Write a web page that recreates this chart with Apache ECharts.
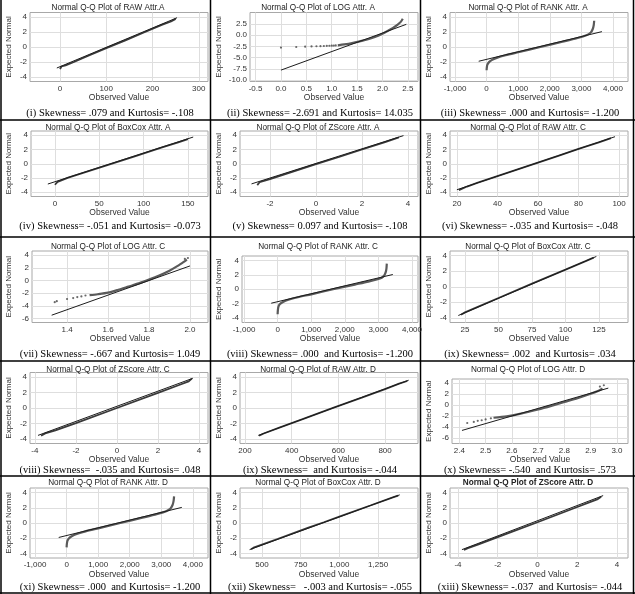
<!DOCTYPE html>
<html>
<head>
<meta charset="utf-8">
<title>Normal Q-Q plots</title>
<script src="https://cdn.jsdelivr.net/npm/echarts@6/dist/echarts.min.js"></script>
<style>
  html, body { margin: 0; padding: 0; background: #fff; }
  #chart { width: 635px; height: 594px; }
</style>
</head>
<body>
<div id="chart"></div>
<script>
// panel titles / captions
const titles = [
    'Normal Q-Q Plot of RAW Attr.A', 'Normal Q-Q Plot of LOG Attr. A', 'Normal Q-Q Plot of RANK Attr. A',
    'Normal Q-Q Plot of BoxCox Attr. A', 'Normal Q-Q Plot of ZScore Attr. A', 'Normal Q-Q Plot of RAW Attr. C',
    'Normal Q-Q Plot of LOG Attr. C', 'Normal Q-Q Plot of RANK Attr. C', 'Normal Q-Q Plot of BoxCox Attr. C',
    'Normal Q-Q Plot of ZScore Attr. C', 'Normal Q-Q Plot of RAW Attr. D', 'Normal Q-Q Plot of LOG Attr. D',
    'Normal Q-Q Plot of RANK Attr. D', 'Normal Q-Q Plot of BoxCox Attr. D', 'Normal Q-Q Plot of ZScore Attr. D'
];
const captions = [
    '(i) Skewness= .079 and Kurtosis= -.108',
    '(ii) Skewness= -2.691 and Kurtosis= 14.035',
    '(iii) Skewness= .000 and Kurtosis= -1.200',
    '(iv) Skewness= -.051 and Kurtosis= -0.073',
    '(v) Skewness= 0.097 and Kurtosis= -.108',
    '(vi) Skewness= -.035 and Kurtosis= -.048',
    '(vii) Skewness= -.667 and Kurtosis= 1.049',
    '(viii) Skewness= .000  and Kurtosis= -1.200',
    '(ix) Skewness= .002  and Kurtosis= .034',
    '(viii) Skewness=  -.035 and Kurtosis= .048',
    '(ix) Skewness=  and Kurtosis= -.044',
    '(x) Skewness= -.540  and Kurtosis= .573',
    '(xi) Skewness= .000  and Kurtosis= -1.200',
    '(xii) Skewness=   -.003 and Kurtosis= -.055',
    '(xiii) Skewness= -.037  and Kurtosis= -.044'
];

// tick labels
const y4 = [-4, -2, 0, 2, 4];
const yLogA = [-10, -7.5, -5, -2.5, 0, 2.5];
const yLog = [-6, -4, -2, 0, 2, 4];
const xRawA = [0, 100, 200, 300];
const xLogA = [-0.5, 0, 0.5, 1, 1.5, 2, 2.5];
const xRank = [-1000, 0, 1000, 2000, 3000, 4000];
const xBoxA = [0, 50, 100, 150];
const xZA = [-2, 0, 2, 4];
const xRawC = [20, 40, 60, 80, 100];
const xLogC = [1.4, 1.6, 1.8, 2.0];
const xBoxC = [25, 50, 75, 100, 125];
const xZ = [-4, -2, 0, 2, 4];
const xRawD = [200, 400, 600, 800];
const xLogD = [2.4, 2.5, 2.6, 2.7, 2.8, 2.9, 3.0];
const xBoxD = [500, 750, 1000, 1250];

// reference lines (expected normal) and observed quantiles
const rawA_ref = [[-7, -2.8], [253, 3.9]];
const rawA_qq = [[0, -2.95], [3, -2.6], [12, -2.45], [30, -2.0], [60, -1.2], [100, -0.15], [140, 0.85], [180, 1.9], [220, 2.95], [240, 3.4], [250, 3.75]];

const logA_ref = [[0, -7.8], [2.47, 2.45]];
const logA_tail = [[0, -2.75], [0.301, -2.62], [0.477, -2.55], [0.602, -2.5], [0.699, -2.46], [0.778, -2.43], [0.845, -2.4], [0.903, -2.37], [0.954, -2.34], [1.0, -2.32], [1.041, -2.3], [1.079, -2.28]];
const logA_qq = [[1.12, -2.25], [1.25, -2.05], [1.4, -1.75], [1.55, -1.35], [1.7, -0.95], [1.85, -0.4], [2.0, 0.35], [2.1, 0.95], [2.2, 1.6], [2.3, 2.4], [2.36, 3.0], [2.4, 3.7]];

const rankA_ref = [[-250, -1.9], [3650, 2.05]];
const rankA_qq = [[0, -3.1], [8, -2.7], [25, -2.35], [70, -2.05], [160, -1.75], [320, -1.45], [600, -1.1], [1000, -0.7], [1700, 0], [2400, 0.7], [2800, 1.1], [3050, 1.4], [3200, 1.65], [3300, 1.95], [3360, 2.4], [3390, 2.9], [3405, 3.5]];

const boxA_ref = [[-8, -2.85], [156, 3.75]];
const boxA_qq = [[0, -2.95], [3, -2.55], [15, -1.95], [30, -1.35], [60, -0.15], [90, 1.05], [120, 2.25], [140, 3.05], [150, 3.45]];

const zA_ref = [[-2.8, -2.83], [3.8, 3.95]];
const zA_qq = [[-2.55, -3.0], [-2.45, -2.6], [-2, -2.15], [-1, -1.1], [0, -0.05], [1, 0.95], [2, 2.0], [3, 3.05], [3.6, 3.7]];

const rawC_ref = [[20, -3.65], [98, 3.8]];
const rawC_qq = [[21, -3.7], [25, -3.2], [30, -2.7], [40, -1.75], [50, -0.8], [60, 0.15], [70, 1.1], [80, 2.1], [90, 3.0], [96, 3.6]];

const logC_ref = [[1.325, -5.45], [2.0, 2.3]];
const logC_tail = [[1.34, -3.4], [1.35, -3.25], [1.4, -2.9], [1.43, -2.75], [1.45, -2.6], [1.47, -2.5], [1.49, -2.35], [1.975, 3.4], [1.99, 3.55]];
const logC_qq = [[1.51, -2.3], [1.55, -2.15], [1.6, -1.9], [1.65, -1.45], [1.7, -0.95], [1.75, -0.45], [1.8, 0.15], [1.85, 0.8], [1.9, 1.55], [1.94, 2.3], [1.97, 2.95], [1.985, 3.3]];

const rankC_ref = [[-190, -1.93], [3430, 2.04]];
const rankC_qq = [[0, -3.45], [8, -2.9], [25, -2.4], [70, -2.05], [160, -1.75], [320, -1.45], [600, -1.1], [1000, -0.7], [1650, 0], [2300, 0.65], [2700, 1.05], [2950, 1.35], [3100, 1.6], [3180, 1.95], [3220, 2.4], [3240, 2.9], [3250, 3.55]];

const boxC_ref = [[20, -3.7], [123, 3.9]];
const boxC_qq = [[22, -3.6], [25, -3.3], [35, -2.55], [50, -1.45], [75, 0.4], [100, 2.2], [115, 3.3], [121, 3.75]];

const zC_ref = [[-3.85, -3.55], [3.7, 3.85]];
const zC_qq = [[-3.7, -3.6], [-3.5, -3.3], [-3, -2.9], [-2, -1.95], [0, 0.0], [2, 1.95], [3, 2.95], [3.5, 3.45], [3.65, 3.8]];

const rawD_ref = [[257, -3.55], [901, 3.6]];
const rawD_qq = [[260, -3.6], [280, -3.3], [350, -2.5], [450, -1.4], [580, 0.05], [700, 1.35], [800, 2.45], [860, 3.15], [895, 3.5]];

const logD_ref = [[2.41, -4.6], [2.967, 3.08]];
const logD_tail = [[2.43, -3.25], [2.455, -3.05], [2.47, -2.85], [2.485, -2.75], [2.5, -2.6], [2.52, -2.4], [2.935, 3.35], [2.95, 3.6]];
const logD_qq = [[2.53, -2.3], [2.58, -2.05], [2.63, -1.6], [2.7, -0.8], [2.75, -0.15], [2.8, 0.55], [2.85, 1.25], [2.9, 2.05], [2.93, 2.6], [2.945, 3.0]];

const rankD_ref = [[-250, -1.9], [3650, 2.05]];
const rankD_qq = [[0, -3.2], [8, -2.75], [25, -2.35], [70, -2.05], [160, -1.75], [320, -1.45], [600, -1.1], [1000, -0.7], [1700, 0], [2400, 0.7], [2800, 1.1], [3050, 1.4], [3200, 1.65], [3300, 1.95], [3360, 2.4], [3390, 2.9], [3405, 3.5]];

const boxD_ref = [[420, -3.5], [1390, 3.7]];
const boxD_qq = [[430, -3.45], [450, -3.2], [600, -2.1], [800, -0.6], [900, 0.1], [1000, 0.85], [1200, 2.3], [1350, 3.4], [1380, 3.6]];

const zD_ref = [[-3.8, -3.5], [3.3, 3.6]];
const zD_qq = [[-3.7, -3.55], [-3.5, -3.3], [-3, -2.85], [-2, -1.85], [0, 0.1], [2, 2.1], [3, 3.1], [3.2, 3.45]];

// layout: rows (absolute px) and panel boxes
const rows = [
    { title: 7.5, top: 12.5, bot: 81.5, cap: 113 },
    { title: 128, top: 131, bot: 196.5, cap: 226 },
    { title: 247, top: 251, bot: 322.5, cap: 354 },
    { title: 370, top: 372.5, bot: 443.5, cap: 470 },
    { title: 483, top: 488, bot: 558, cap: 587 }
];
const colX = [0, 210, 420];

const panels = [
    { gl: 30, gr: 208, xr: [-65, 320], yr: [-4.6, 4.6], xt: xRawA, yt: y4, ref: rawA_ref, qq: rawA_qq },
    { gl: 250, gr: 418, xr: [-0.61, 2.7], yr: [-10.35, 5.1], xt: xLogA, yt: yLogA, xd: 1, yd: 1, ref: logA_ref, qq: logA_qq, tail: logA_tail, curve: true },
    { gl: 450, gr: 628, xr: [-1158, 4475], yr: [-4.6, 4.6], xt: xRank, yt: y4, sep: true, ref: rankA_ref, qq: rankA_qq, curve: true },
    { gl: 31, gr: 208, xr: [-27, 172.7], yr: [-4.6, 4.6], xt: xBoxA, yt: y4, ref: boxA_ref, qq: boxA_qq },
    { gl: 240, gr: 418, xr: [-3.3, 4.43], yr: [-4.6, 4.6], xt: xZA, yt: y4, ref: zA_ref, qq: zA_qq },
    { gl: 450, gr: 628, xr: [16.6, 104.4], yr: [-4.6, 4.6], xt: xRawC, yt: y4, ref: rawC_ref, qq: rawC_qq },
    { gl: 32, gr: 208, xr: [1.229, 2.088], yr: [-6.6, 4.65], xt: xLogC, yt: yLog, xd: 1, ref: logC_ref, qq: logC_qq, tail: logC_tail, curve: true },
    { gl: 242, gr: 418, xr: [-1060, 4179], yr: [-4.6, 4.6], xt: xRank, yt: y4, sep: true, ref: rankC_ref, qq: rankC_qq, curve: true, top: 256 },
    { gl: 450, gr: 628, xr: [13.8, 146.6], yr: [-4.6, 4.6], xt: xBoxC, yt: y4, ref: boxC_ref, qq: boxC_qq },
    { gl: 30, gr: 208, xr: [-4.24, 4.44], yr: [-4.6, 4.6], xt: xZ, yt: y4, ref: zC_ref, qq: zC_qq },
    { gl: 240, gr: 418, xr: [178.5, 941], yr: [-4.6, 4.6], xt: xRawD, yt: y4, ref: rawD_ref, qq: rawD_qq },
    { gl: 452, gr: 628, xr: [2.372, 3.042], yr: [-6.97, 4.73], xt: xLogD, yt: yLog, xd: 1, ref: logD_ref, qq: logD_qq, tail: logD_tail, curve: true, top: 379 },
    { gl: 30, gr: 208, xr: [-1160, 4480], yr: [-4.6, 4.6], xt: xRank, yt: y4, sep: true, ref: rankD_ref, qq: rankD_qq, curve: true },
    { gl: 240, gr: 418, xr: [358, 1508], yr: [-4.6, 4.6], xt: xBoxD, yt: y4, sep: true, ref: boxD_ref, qq: boxD_qq },
    { gl: 450, gr: 628, xr: [-4.4, 4.55], yr: [-4.6, 4.6], xt: xZ, yt: y4, ref: zD_ref, qq: zD_qq, bold: true }
];

const sans = '"Liberation Sans", Arial, sans-serif';
const serif = '"Liberation Serif", "Times New Roman", serif';

function fmt(dec, sep) {
    return v => sep ? v.toLocaleString('en-US') : (dec ? v.toFixed(dec) : String(v));
}

const grids = [], xAxes = [], yAxes = [], series = [], graphics = [];

panels.forEach((p, i) => {
    const r = rows[Math.floor(i / 3)];
    const ox = colX[i % 3];
    const top = p.top || r.top;
    grids.push({
        left: p.gl, top: top, width: p.gr - p.gl, height: r.bot - top,
        show: true, borderColor: '#a8a8a8', borderWidth: 1, backgroundColor: '#fff'
    });
    xAxes.push({
        gridIndex: i, type: 'value', min: p.xr[0], max: p.xr[1],
        axisLine: { show: false },
        axisTick: { show: false, customValues: p.xt },
        axisLabel: { customValues: p.xt, formatter: fmt(p.xd, p.sep), fontSize: 8, color: '#333', margin: 3, fontFamily: sans },
        splitLine: { show: true, lineStyle: { color: '#dedede', width: 1 } },
        name: 'Observed Value', nameLocation: 'middle', nameGap: 12,
        nameTextStyle: { fontSize: 8.5, color: '#333', fontFamily: sans }
    });
    yAxes.push({
        gridIndex: i, type: 'value', min: p.yr[0], max: p.yr[1],
        axisLine: { show: false },
        axisTick: { show: false, customValues: p.yt },
        axisLabel: { customValues: p.yt, formatter: fmt(p.yd), fontSize: 8, color: '#333', margin: 3, fontFamily: sans },
        splitLine: { show: true, lineStyle: { color: '#dedede', width: 1 } },
        name: 'Expected Normal', nameLocation: 'middle', nameRotate: 90, nameGap: p.gl - ox - 13,
        nameTextStyle: { fontSize: 8, color: '#333', fontFamily: sans }
    });
    series.push({
        type: 'line', xAxisIndex: i, yAxisIndex: i, data: p.qq,
        showSymbol: false, smooth: p.curve ? 0.25 : false, silent: true,
        lineStyle: { color: p.curve ? '#5a5a5a' : '#3a3a3a', width: p.curve ? 2.2 : 1.8 }
    });
    if (p.tail) {
        series.push({
            type: 'scatter', xAxisIndex: i, yAxisIndex: i, data: p.tail,
            symbolSize: 2.2, silent: true, itemStyle: { color: '#444' }
        });
    }
    series.push({
        type: 'line', xAxisIndex: i, yAxisIndex: i, data: p.ref,
        showSymbol: false, silent: true,
        lineStyle: { color: '#1c1c1c', width: 1 }
    });
    graphics.push({
        type: 'text', silent: true,
        style: {
            text: titles[i], x: ox + 108, y: r.title, align: 'center', verticalAlign: 'middle',
            fontSize: 8.2, fontWeight: p.bold ? 'bold' : 'normal', fontFamily: sans, fill: '#222'
        }
    });
    graphics.push({
        type: 'text', silent: true,
        style: {
            text: captions[i], x: ox + 110, y: r.cap, align: 'center', verticalAlign: 'middle',
            fontSize: 10.5, fontFamily: serif, fill: '#000'
        }
    });
});

// table rules between the panels
[1, 210.5, 420.5, 633.5].forEach(x => {
    graphics.push({ type: 'line', silent: true, shape: { x1: x, y1: 0, x2: x, y2: 594 }, style: { stroke: '#000', lineWidth: 1.5 } });
});
[120, 237, 361, 476, 593].forEach(y => {
    graphics.push({ type: 'line', silent: true, shape: { x1: 0, y1: y, x2: 635, y2: y }, style: { stroke: '#000', lineWidth: 1.5 } });
});

const chart = echarts.init(document.getElementById('chart'), null, { renderer: 'canvas' });
chart.setOption({
    animation: false,
    backgroundColor: '#fff',
    grid: grids,
    xAxis: xAxes,
    yAxis: yAxes,
    series: series,
    graphic: graphics
});
window.addEventListener('resize', () => chart.resize());
</script>
</body>
</html>
